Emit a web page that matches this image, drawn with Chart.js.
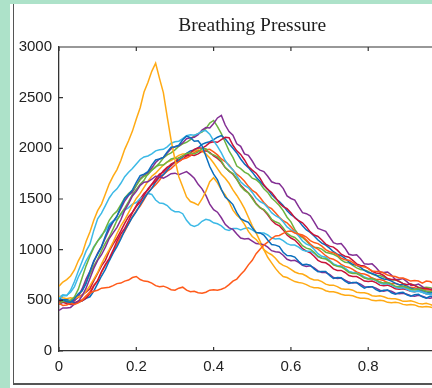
<!DOCTYPE html>
<html>
<head>
<meta charset="utf-8">
<script src="https://cdn.jsdelivr.net/npm/chart.js@4.4.0/dist/chart.umd.min.js"></script>
<style>
html,body{margin:0;padding:0;background:#fff;}
#wrap{position:relative;width:432px;height:388px;overflow:hidden;background:#fff;}
#gl{position:absolute;left:0;top:0;width:10px;height:388px;background:#ade2c9;}
#gt{position:absolute;left:0;top:0;width:432px;height:4px;background:#ade2c9;}
#bl{position:absolute;left:12.5px;top:4px;width:1.6px;height:381px;background:#555;}
#bb{position:absolute;left:12.5px;top:383px;width:420px;height:1.8px;background:#555;}
canvas{position:absolute;left:0;top:0;}
</style>
</head>
<body>
<div id="wrap">
<div id="gl"></div><div id="gt"></div><div id="bl"></div><div id="bb"></div>
<canvas id="c" width="432" height="388"></canvas>
</div>
<script>
const TITLE = 'Breathing Pressure';
const xs = [0,0.01,0.02,0.03,0.04,0.05,0.06,0.07,0.08,0.09,0.1,0.11,0.12,0.13,0.14,0.15,0.16,0.17,0.18,0.19,0.2,0.21,0.22,0.23,0.24,0.25,0.26,0.27,0.28,0.29,0.3,0.31,0.32,0.33,0.34,0.35,0.36,0.37,0.38,0.39,0.4,0.41,0.42,0.43,0.44,0.45,0.46,0.47,0.48,0.49,0.5,0.51,0.52,0.53,0.54,0.55,0.56,0.57,0.58,0.59,0.6,0.61,0.62,0.63,0.64,0.65,0.66,0.67,0.68,0.69,0.7,0.71,0.72,0.73,0.74,0.75,0.76,0.77,0.78,0.79,0.8,0.81,0.82,0.83,0.84,0.85,0.86,0.87,0.88,0.89,0.9,0.91,0.92,0.93,0.94,0.95,0.96,0.97,0.98,0.99,1];
const xTicks = [0,0.2,0.4,0.6,0.8];
const yTicks = [0,500,1000,1500,2000,2500,3000];

const blue1   = [500,507,485,480,515,565,595,665,785,890,955,1030,1135,1230,1275,1330,1425,1505,1545,1590,1665,1730,1745,1770,1835,1885,1895,1910,1965,2010,2015,2030,2085,2120,2105,2070,2075,2025,1925,1820,1745,1690,1595,1520,1485,1445,1365,1305,1285,1270,1215,1170,1165,1145,1095,1050,1045,1030,975,942,940,927,885,850,855,847,810,782,785,785,745,715,725,722,690,667,675,675,645,620,635,635,605,587,600,602,575,560,575,580,555,540,555,560,535,522,540,540,520,505,520];
const orange1 = [470,450,455,470,460,475,500,545,570,590,600,620,625,630,645,665,670,690,700,725,735,705,690,685,670,645,635,640,625,605,600,620,630,600,585,590,575,570,580,600,605,600,610,625,655,690,710,755,795,850,895,960,1005,1045,1075,1110,1135,1140,1160,1180,1185,1165,1155,1145,1125,1090,1070,1060,1035,1000,980,970,950,915,900,895,875,845,835,830,815,790,785,785,770,750,740,735,720,720,705,690,695,690,670,690,685,665,655,660,650];
const yellow1 = [640,680,705,740,800,890,960,1080,1175,1290,1385,1450,1550,1650,1725,1790,1880,1990,2075,2170,2290,2400,2555,2650,2760,2840,2690,2550,2310,2080,1890,1720,1620,1520,1475,1460,1440,1500,1575,1670,1710,1660,1590,1540,1470,1390,1340,1305,1250,1180,1130,1100,1055,1000,970,950,915,870,845,830,805,780,765,760,740,715,700,700,685,660,650,650,635,615,610,610,600,580,575,575,565,545,540,545,535,520,515,515,505,490,490,495,485,470,465,470,460,445,445,450,445];
const purple1 = [400,425,425,430,465,490,545,620,715,815,895,950,1025,1110,1165,1220,1295,1390,1455,1530,1575,1635,1665,1670,1695,1725,1720,1705,1725,1750,1755,1740,1755,1770,1740,1705,1645,1600,1535,1450,1395,1370,1315,1250,1215,1200,1155,1115,1105,1110,1085,1060,1055,1050,1025,990,980,975,945,905,890,895,875,845,835,840,820,790,775,775,755,725,715,720,700,680,670,675,660,635,630,635,620,600,590,600,590,570,565,570,560,545,540,550,540,525,520,530,525,510,510];
const green1  = [470,490,485,500,535,610,725,840,935,1020,1085,1130,1205,1290,1345,1380,1445,1510,1555,1585,1635,1690,1725,1740,1785,1820,1835,1835,1865,1895,1905,1900,1925,1950,1955,1945,1965,1995,1995,1950,1935,1915,1875,1810,1775,1750,1695,1625,1585,1560,1505,1450,1415,1395,1355,1300,1275,1260,1215,1160,1135,1120,1085,1040,1015,1005,975,935,915,910,885,850,835,830,805,775,765,765,745,720,710,715,700,680,670,675,660,640,635,640,630,610,605,615,605,590,585,595,585,570,570];
const cyan1   = [520,545,545,600,685,790,885,985,1055,1190,1305,1360,1435,1510,1565,1600,1655,1720,1765,1800,1845,1890,1915,1925,1945,1975,1985,1990,2015,2050,2065,2070,2095,2125,2135,2130,2145,2170,2175,2140,2075,2020,1955,1880,1825,1790,1725,1670,1635,1610,1565,1510,1475,1455,1415,1365,1335,1315,1275,1225,1195,1175,1135,1085,1055,1040,1005,960,935,925,895,860,845,840,815,785,770,770,750,725,710,710,695,670,660,665,650,630,620,625,610,590,585,590,580,565,560,565,560,545,540];
const red1    = [480,485,465,460,470,490,495,520,565,640,695,785,855,915,995,1085,1155,1210,1285,1365,1425,1470,1535,1600,1645,1675,1725,1780,1815,1830,1865,1905,1925,1930,1955,1990,2005,2000,2025,2055,2065,2060,2085,2110,2105,2030,1975,1940,1885,1820,1785,1755,1705,1640,1595,1565,1515,1460,1425,1405,1365,1315,1285,1265,1225,1175,1145,1130,1095,1055,1035,1025,995,955,935,925,895,860,845,840,815,785,770,765,745,715,705,705,685,665,655,660,645,625,615,620,610,595,590,600,590];
const blue2   = [520,505,505,495,475,480,495,520,535,590,665,740,805,890,965,1030,1105,1190,1255,1320,1375,1445,1505,1560,1605,1670,1715,1740,1785,1830,1865,1885,1915,1950,1975,1985,2005,2040,2055,2065,2085,2110,2125,2095,2045,2000,1955,1895,1845,1810,1765,1715,1675,1630,1595,1545,1505,1475,1435,1385,1345,1320,1285,1235,1195,1170,1135,1095,1065,1045,1015,980,955,940,915,880,855,845,825,795,775,765,750,725,710,705,690,670,655,655,640,620,610,610,600,585,575,580,575,560,555];
const orange2 = [500,495,475,480,475,495,505,540,585,650,695,775,845,905,975,1055,1125,1180,1255,1325,1385,1430,1495,1560,1605,1640,1685,1740,1775,1800,1835,1870,1895,1905,1925,1960,1975,1970,1985,1990,1965,1935,1895,1870,1835,1785,1745,1715,1675,1625,1585,1560,1515,1465,1425,1405,1365,1320,1285,1265,1225,1180,1145,1130,1095,1055,1025,1005,975,940,915,905,885,855,835,825,805,780,765,760,745,720,705,705,695,675,665,665,655,635,625,630,625,610,605,610,605,590,585,590,585];
const yellow2 = [540,525,515,525,515,535,545,590,645,710,775,860,935,1000,1075,1160,1235,1295,1365,1440,1505,1555,1615,1675,1725,1755,1795,1835,1865,1880,1905,1930,1945,1945,1955,1975,1985,1970,1945,1905,1855,1800,1745,1705,1655,1590,1535,1475,1405,1320,1235,1165,1085,1000,925,870,815,770,735,725,705,685,675,670,655,635,625,625,615,595,585,585,575,560,550,550,545,530,520,520,515,500,495,500,495,480,475,480,475,460,455,460,455,440,435,440,435,425,420,425,420];
const purple2 = [460,480,475,470,495,540,615,710,785,880,965,1030,1115,1200,1275,1330,1405,1480,1535,1570,1635,1700,1735,1760,1805,1860,1895,1910,1955,1995,2015,2025,2055,2095,2105,2110,2135,2180,2205,2200,2245,2300,2325,2230,2165,2130,2045,2020,1945,1930,1875,1810,1785,1770,1725,1670,1655,1650,1605,1530,1505,1490,1425,1365,1355,1335,1275,1210,1195,1180,1125,1070,1055,1060,1015,955,945,950,910,860,855,860,825,780,775,780,750,705,705,715,685,650,650,660,635,605,605,620,600,575,580];
const green2  = [510,490,495,500,525,545,595,680,755,840,905,990,1065,1125,1205,1290,1355,1410,1475,1545,1595,1645,1685,1750,1785,1815,1855,1905,1935,1955,1985,2020,2045,2060,2085,2125,2145,2160,2195,2250,2275,2215,2145,2060,1975,1910,1825,1800,1765,1745,1705,1690,1655,1600,1565,1510,1475,1435,1385,1320,1275,1200,1145,1120,1085,1045,1025,1020,1005,975,965,955,935,900,875,870,845,820,805,800,785,760,745,745,730,710,700,700,690,665,655,660,650,630,625,630,625,610,605,610,605];
const cyan2   = [530,555,550,580,635,730,805,890,955,1030,1085,1145,1185,1250,1285,1300,1345,1390,1415,1450,1465,1505,1525,1555,1545,1490,1460,1455,1435,1395,1375,1375,1355,1290,1245,1230,1245,1280,1300,1290,1265,1255,1235,1200,1190,1210,1210,1195,1210,1215,1195,1170,1165,1165,1145,1115,1105,1110,1090,1060,1045,1045,1025,995,985,985,965,930,915,910,885,855,840,835,815,785,775,775,755,730,715,720,705,680,670,670,655,635,625,630,615,595,590,595,580,565,560,570,560,545,540];
const red2    = [480,495,505,490,505,530,555,580,615,695,765,840,895,985,1055,1115,1185,1260,1325,1370,1435,1500,1555,1590,1645,1700,1745,1765,1805,1845,1865,1870,1895,1925,1935,1930,1945,1970,1975,1960,1925,1900,1865,1810,1775,1745,1695,1635,1595,1560,1515,1455,1415,1390,1345,1290,1255,1235,1195,1145,1115,1095,1055,1010,985,970,935,895,875,870,845,810,795,795,775,745,735,735,715,690,685,690,675,650,645,650,635,615,610,615,605,590,585,595,585,565,565,575,570,555,555];

const seriesValues = [blue1, orange1, yellow1, purple1, green1, cyan1, red1, blue2, orange2, yellow2, purple2, green2, cyan2, red2];
const seriesColors = ['#0A6EBD','#FF5A1A','#FFAA14','#832F94','#6DB33F','#3CB9E6','#C8143A','#0A6EBD','#FF5A1A','#FFAA14','#832F94','#6DB33F','#3CB9E6','#C8143A'];

const XMAX = 0.965;

const frame = {
  id: 'frame',
  afterDraw(c) {
    const {ctx, chartArea: a, scales: {x, y}} = c;
    ctx.save();
    ctx.strokeStyle = '#333';
    ctx.lineWidth = 1.2;
    ctx.beginPath();
    ctx.moveTo(a.left, a.top); ctx.lineTo(a.right, a.top);
    xTicks.forEach(v => {
      const px = x.getPixelForValue(v);
      ctx.moveTo(px, a.bottom); ctx.lineTo(px, a.bottom - 4);
      ctx.moveTo(px, a.top); ctx.lineTo(px, a.top + 4);
    });
    yTicks.forEach(v => {
      const py = y.getPixelForValue(v);
      ctx.moveTo(a.left, py); ctx.lineTo(a.left + 4, py);
    });
    ctx.stroke();
    ctx.fillStyle = '#1e1e1e';
    ctx.font = '19.5px "Liberation Serif"';
    ctx.textAlign = 'center';
    ctx.textBaseline = 'alphabetic';
    ctx.fillText(TITLE, x.getPixelForValue(0.5), 30.5);
    ctx.restore();
  }
};

new Chart(document.getElementById('c'), {
  type: 'line',
  data: {
    datasets: seriesValues.map((vals, i) => ({
      data: xs.map((xv, j) => ({x: xv, y: vals[j]})),
      borderColor: seriesColors[i],
      borderWidth: 1.5,
      pointRadius: 0,
      tension: 0,
      fill: false
    }))
  },
  options: {
    responsive: false,
    animation: false,
    devicePixelRatio: 1,
    layout: {padding: {top: 47, left: 0, right: 0, bottom: 0}},
    plugins: {legend: {display: false}, tooltip: {enabled: false}, title: {display: false}},
    scales: {
      x: {
        type: 'linear', min: 0, max: XMAX,
        afterFit(s) { s.height = 37; },
        grid: {display: false, drawTicks: false},
        border: {display: true, color: '#333', width: 1.3},
        afterBuildTicks(s) { s.ticks = xTicks.map(v => ({value: v})); },
        ticks: {
          padding: 7, color: '#222',
          font: {family: '"Liberation Sans", Arial, sans-serif', size: 15},
          callback: v => String(+v.toFixed(1))
        }
      },
      y: {
        min: 0, max: 3000,
        afterFit(s) { s.width = 59; },
        grid: {display: false, drawTicks: false},
        border: {display: true, color: '#333', width: 1.3},
        afterBuildTicks(s) { s.ticks = yTicks.map(v => ({value: v})); },
        ticks: {
          padding: 7, color: '#222',
          font: {family: '"Liberation Sans", Arial, sans-serif', size: 15},
          callback: v => String(v)
        }
      }
    }
  },
  plugins: [frame]
});
</script>
</body>
</html>
